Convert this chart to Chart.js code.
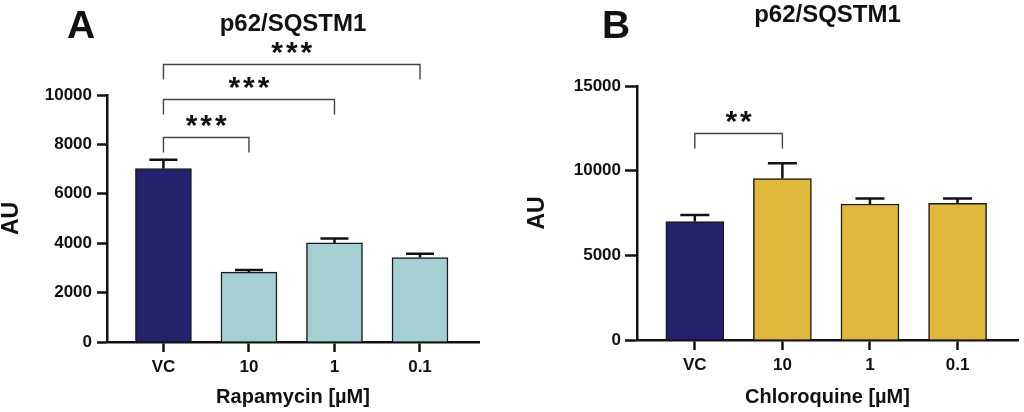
<!DOCTYPE html>
<html>
<head>
<meta charset="utf-8">
<script src="https://cdn.jsdelivr.net/npm/chart.js@4.4.1/dist/chart.umd.min.js"></script>
<style>
  html, body { margin:0; padding:0; background:#fff; }
  #wrap { display:flex; width:1024px; height:412px; }
  canvas { display:block; }
</style>
</head>
<body>
<div id="wrap">
  <canvas id="chartA" width="512" height="412"></canvas>
  <canvas id="chartB" width="512" height="412"></canvas>
</div>
<script>
/* p62/SQSTM1 — rapamycin vs chloroquine panels */
const categories = ['VC', '10', '1', '0.1'];

const rapaMeans = [7020, 2830, 4010, 3420];
const rapaErrors = [360, 80, 180, 150];
const rapaTicks = [0, 2000, 4000, 6000, 8000, 10000];

const chloroMeans = [7000, 9540, 8030, 8070];
const chloroErrors = [380, 900, 330, 290];
const chloroTicks = [0, 5000, 10000, 15000];

// significance brackets (category index from/to, height in AU, label)
const rapaBracketFrom = [0, 0, 0];
const rapaBracketTo = [1, 2, 3];
const rapaBracketY = [8310, 9850, 11240];
const rapaBracketLabel = ['***', '***', '***'];

const chloroBracketFrom = [0];
const chloroBracketTo = [1];
const chloroBracketY = [12210];
const chloroBracketLabel = ['**'];

const NAVY = '#26216d';
const LIGHTBLUE = '#a4cfd3';
const GOLD = '#e0b93c';
const FONT = "'Liberation Sans', Arial, sans-serif";

Chart.defaults.font.family = FONT;
Chart.defaults.font.weight = 'bold';
Chart.defaults.color = '#111';

// error bars (upper only) + brackets + panel letter / title
const extrasPlugin = {
  id: 'extras',
  afterDatasetsDraw(chart, args, opts){
    const ctx = chart.ctx;
    const y = chart.scales.y;
    const meta = chart.getDatasetMeta(0);
    ctx.save();
    ctx.strokeStyle = '#111';
    ctx.lineWidth = 2.5;
    meta.data.forEach((bar, i) => {
      const top = y.getPixelForValue(opts.means[i] + opts.errors[i]);
      const half = bar.width / 4;
      ctx.beginPath();
      ctx.moveTo(bar.x, bar.y);
      ctx.lineTo(bar.x, top);
      ctx.moveTo(bar.x - half, top);
      ctx.lineTo(bar.x + half, top);
      ctx.stroke();
    });
    ctx.restore();
  },
  afterDraw(chart, args, opts){
    const ctx = chart.ctx;
    const x = chart.scales.x;
    const y = chart.scales.y;
    const area = chart.chartArea;
    ctx.save();
    // brackets
    ctx.strokeStyle = '#444';
    ctx.lineWidth = 1.4;
    opts.bFrom.forEach((f, i) => {
      const x1 = x.getPixelForValue(f);
      const x2 = x.getPixelForValue(opts.bTo[i]);
      const yb = Math.round(y.getPixelForValue(opts.bY[i])) + 0.5;
      ctx.beginPath();
      ctx.moveTo(x1, yb + 15);
      ctx.lineTo(x1, yb);
      ctx.lineTo(x2, yb);
      ctx.lineTo(x2, yb + 15);
      ctx.stroke();
      ctx.fillStyle = '#111';
      ctx.font = 'bold 30px ' + FONT;
      ctx.letterSpacing = '3px';
      ctx.textAlign = 'center';
      ctx.textBaseline = 'alphabetic';
      ctx.fillText(opts.bLabel[i], (x1 + x2) / 2 + 1.5, yb - 3);
      ctx.letterSpacing = '0px';
    });
    // title
    ctx.fillStyle = '#111';
    ctx.font = 'bold 24px ' + FONT;
    ctx.textAlign = 'center';
    ctx.fillText('p62/SQSTM1', (area.left + area.right) / 2, opts.titleBase);
    // panel letter
    ctx.font = 'bold 39px ' + FONT;
    ctx.textAlign = 'left';
    ctx.fillText(opts.letter, opts.letterX, 38);
    ctx.restore();
  }
};

function makePanel(id, means, errors, colors, ticks, xTitle, geo, extras){
  return new Chart(document.getElementById(id), {
    type: 'bar',
    data: {
      datasets: [{
        data: means.map((v, i) => ({x: i, y: v})),
        backgroundColor: colors,
        borderColor: '#1a1a1a',
        borderWidth: 1.5,
        borderSkipped: 'bottom',
        barThickness: geo.barW
      }]
    },
    plugins: [extrasPlugin],
    options: {
      responsive: false,
      animation: false,
      events: [],
      layout: { padding: geo.pad },
      plugins: {
        legend: { display: false },
        tooltip: { enabled: false },
        extras: extras
      },
      scales: {
        x: {
          type: 'linear',
          offset: false,
          min: -0.66,
          max: 3.69,
          afterFit: s => { s.height = geo.xH; },
          afterBuildTicks: s => { s.ticks = categories.map((c, i) => ({value: i})); },
          ticks: {
            callback: v => categories[v],
            font: { size: 17, weight: 'bold' },
            color: '#111',
            padding: 5,
            maxRotation: 0
          },
          grid: { offset: false, drawOnChartArea: false, drawTicks: true, tickLength: 10, tickWidth: 2.5, tickColor: '#111' },
          border: { display: true, width: 2.5, color: '#111' },
          title: { display: true, text: xTitle, font: { size: 20, weight: 'bold', lineHeight: 1.2 }, color: '#111', padding: { top: 0, bottom: 3 } }
        },
        y: {
          min: 0,
          max: ticks[ticks.length - 1],
          afterFit: s => { s.width = geo.yW; },
          afterBuildTicks: s => { s.ticks = ticks.map(v => ({value: v})); },
          ticks: { callback: v => String(v), font: { size: 17, weight: 'bold' }, color: '#111', padding: geo.tickPad },
          grid: { drawOnChartArea: false, drawTicks: true, tickLength: geo.tickLen, tickWidth: 2.5, tickColor: '#111' },
          border: { display: true, width: 2.5, color: '#111' },
          title: { display: true, text: 'AU', font: { size: 23, weight: 'bold', lineHeight: 1 }, color: '#111', padding: 0 }
        }
      }
    }
  });
}

makePanel('chartA', rapaMeans, rapaErrors, [NAVY, LIGHTBLUE, LIGHTBLUE, LIGHTBLUE], rapaTicks,
  'Rapamycin [\u00b5M]',
  { pad: {top: 95, right: 33, left: 0, bottom: 0}, yW: 107, xH: 70, barW: 56, tickLen: 10, tickPad: 5 },
  { means: rapaMeans, errors: rapaErrors, bFrom: rapaBracketFrom, bTo: rapaBracketTo, bY: rapaBracketY,
    bLabel: rapaBracketLabel, letter: 'A', letterX: 67, titleBase: 31 });

makePanel('chartB', chloroMeans, chloroErrors, [NAVY, GOLD, GOLD, GOLD], chloroTicks,
  'Chloroquine [\u00b5M]',
  { pad: {top: 86, right: 6, left: 14, bottom: 0}, yW: 111, xH: 72, barW: 58, tickLen: 12, tickPad: 4 },
  { means: chloroMeans, errors: chloroErrors, bFrom: chloroBracketFrom, bTo: chloroBracketTo, bY: chloroBracketY,
    bLabel: chloroBracketLabel, letter: 'B', letterX: 90, titleBase: 22 });
</script>
</body>
</html>
